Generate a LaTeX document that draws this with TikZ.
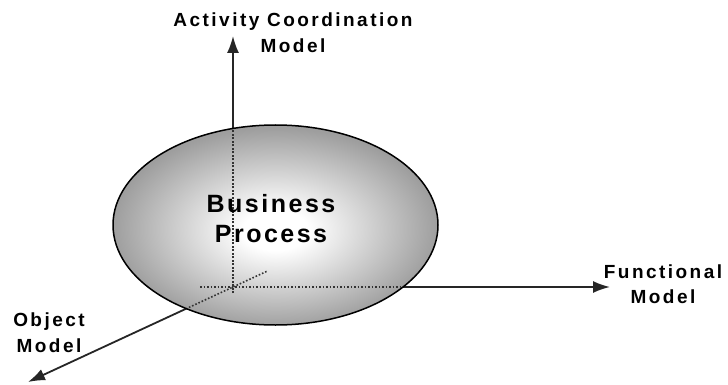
\documentclass[tikz,border=0pt]{standalone}
\usepackage{fontspec}
\setmainfont{Liberation Sans}
\newfontfamily\lblfont{Liberation Sans}[LetterSpace=13]
\newfontfamily\bpfont{Liberation Sans}[LetterSpace=10]
\usepackage{tikz}
\usetikzlibrary{arrows.meta,calc,shapes.geometric}
\tikzset{>={Latex[length=17pt,width=12pt]}}
\pgfdeclareradialshading{bpshade}{\pgfpoint{0bp}{-1.5bp}}{color(0bp)=(white); color(5bp)=(white); color(25bp)=(black!38); color(50bp)=(black!38)}
\tikzstyle{axis}=[->, line width=1.8pt, black!85]
\tikzstyle{guide}=[line width=1.6pt, black!80, dash pattern=on 1.6pt off 1.9pt]
\tikzstyle{lbl}=[font=\lblfont\bfseries\fontsize{19}{25.5}\selectfont, align=center, inner sep=0pt]
\tikzstyle{bplbl}=[font=\bpfont\bfseries\fontsize{25}{30}\selectfont, align=center, inner sep=0pt]
\tikzstyle{bp}=[ellipse, draw=black, line width=1.5pt, shading=bpshade, minimum width=325pt, minimum height=200pt, inner sep=0pt]

\begin{document}
\begin{tikzpicture}[x=1pt,y=-1pt]
\useasboundingbox (0,0) rectangle (728,385);

% the three axes
\coordinate (o) at (233,287);
\coordinate (acTip) at (233,36);
\coordinate (fnTip) at (610,287);
\coordinate (obTip) at (28,382);
\draw[axis] (o) -- (acTip);
\draw[axis] (o) -- (fnTip);
\draw[axis] (o) -- (obTip);

\node[bp] (bp) at (275.5,225) {};

% axes seen through the process
\begin{scope}
\clip (bp.center) ellipse (161.5pt and 99pt);
\draw[guide] ($(o)!-6pt!(acTip)$) -- (acTip);
\draw[guide] ($(o)!-33pt!(fnTip)$) -- (fnTip);
\draw[guide] ($(o)!-37pt!(obTip)$) -- (obTip);
\end{scope}

\node[bplbl] (bpText) at (271,219) {Business\\Process};

\node[lbl] (acLbl) at (293,32.5) {Activity Coordination\\Model};
\node[lbl] (fnLbl) at (663,284) {Functional\\Model};
\node[lbl] (obLbl) at (49,332.5) {Object\\Model};

\end{tikzpicture}
\end{document}
